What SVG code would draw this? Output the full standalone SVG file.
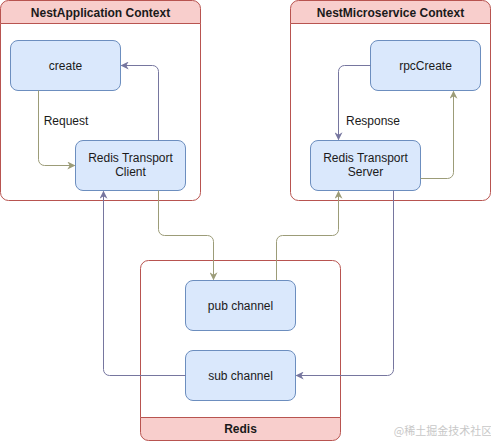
<svg xmlns="http://www.w3.org/2000/svg" width="491" height="441" viewBox="0 0 491 441">
<style>
text{font-family:"Liberation Sans",Arial,sans-serif;font-size:12px;fill:#1a1a1a;text-anchor:middle}
.hd{font-weight:bold}
.cont{fill:#ffffff;stroke:#b85450;stroke-width:1}
.hdr{fill:#f8cecc;stroke:#b85450;stroke-width:1}
.box{fill:#dae8fc;stroke:#6c8ebf;stroke-width:1}
.g{fill:none;stroke:#9c9c78;stroke-width:1}
.p{fill:none;stroke:#76769f;stroke-width:1}
</style>
<defs>
<marker id="ag" viewBox="0 0 10 10" refX="9" refY="5" markerWidth="8" markerHeight="8" markerUnits="userSpaceOnUse" orient="auto"><path d="M0,0 L10,5 L0,10 L3,5 Z" fill="#9c9c78"/></marker>
<marker id="ap" viewBox="0 0 10 10" refX="9" refY="5" markerWidth="8" markerHeight="8" markerUnits="userSpaceOnUse" orient="auto"><path d="M0,0 L10,5 L0,10 L3,5 Z" fill="#76769f"/></marker>
</defs>
<rect width="491" height="441" fill="#ffffff"/>

<g id="nestapp">
<path class="hdr" d="M0.5,23.5 V8.5 A8,8 0 0 1 8.5,0.5 H192.5 A8,8 0 0 1 200.5,8.5 V23.5 Z"/>
<path class="cont" d="M0.5,23.5 H200.5 V192.5 A8,8 0 0 1 192.5,200.5 H8.5 A8,8 0 0 1 0.5,192.5 Z"/>
<text class="hd" x="100.5" y="16.5">NestApplication Context</text>
</g>
<g id="nestms">
<path class="hdr" d="M290.5,23.5 V8.5 A8,8 0 0 1 298.5,0.5 H482.5 A8,8 0 0 1 490.5,8.5 V23.5 Z"/>
<path class="cont" d="M290.5,23.5 H490.5 V192.5 A8,8 0 0 1 482.5,200.5 H298.5 A8,8 0 0 1 290.5,192.5 Z"/>
<text class="hd" x="390.5" y="16.5">NestMicroservice Context</text>
</g>
<g id="redis">
<path class="cont" d="M140.5,417.5 V268.5 A8,8 0 0 1 148.5,260.5 H332.5 A8,8 0 0 1 340.5,268.5 V417.5 Z"/>
<path class="hdr" d="M140.5,417.5 H340.5 V432.5 A8,8 0 0 1 332.5,440.5 H148.5 A8,8 0 0 1 140.5,432.5 Z"/>
<text class="hd" x="240.5" y="433">Redis</text>
</g>

<g id="create"><rect class="box" x="10.5" y="40.5" width="110" height="50" rx="7.5"/><text x="65.5" y="70">create</text></g>
<g id="client"><rect class="box" x="75.5" y="140.5" width="110" height="50" rx="7.5"/><text x="130.5" y="162">Redis Transport</text><text x="130.5" y="176">Client</text></g>
<g id="rpcCreate"><rect class="box" x="370.5" y="40.5" width="110" height="50" rx="7.5"/><text x="425.5" y="70">rpcCreate</text></g>
<g id="server"><rect class="box" x="310.5" y="140.5" width="110" height="50" rx="7.5"/><text x="365.5" y="162">Redis Transport</text><text x="365.5" y="176">Server</text></g>
<g id="pub"><rect class="box" x="185.5" y="280.5" width="110" height="50" rx="7.5"/><text x="240.5" y="310">pub channel</text></g>
<g id="sub"><rect class="box" x="185.5" y="350.5" width="110" height="50" rx="7.5"/><text x="240.5" y="380">sub channel</text></g>

<g id="connectors">
<path class="g" d="M38.5,90.5 V159.5 A6,6 0 0 0 44.5,165.5 H74.5" marker-end="url(#ag)"/>
<text x="66" y="124.5">Request</text>
<path class="p" d="M158.5,140.5 V71.5 A6,6 0 0 0 152.5,65.5 H121.5" marker-end="url(#ap)"/>
<path class="p" d="M370.5,65.5 H344.5 A6,6 0 0 0 338.5,71.5 V139.5" marker-end="url(#ap)"/>
<text x="373" y="124.5">Response</text>
<path class="g" d="M420.5,178.5 H447.5 A6,6 0 0 0 453.5,172.5 V91.5" marker-end="url(#ag)"/>
<path class="g" d="M158.5,190.5 V229.5 A6,6 0 0 0 164.5,235.5 H207.5 A6,6 0 0 1 213.5,241.5 V279.5" marker-end="url(#ag)"/>
<path class="g" d="M276.5,280.5 V241.5 A6,6 0 0 1 282.5,235.5 H332.5 A6,6 0 0 0 338.5,229.5 V191.5" marker-end="url(#ag)"/>
<path class="p" d="M185.5,375.5 H109.5 A6,6 0 0 1 103.5,369.5 V191.5" marker-end="url(#ap)"/>
<path class="p" d="M393.5,190.5 V369.5 A6,6 0 0 1 387.5,375.5 H296.5" marker-end="url(#ap)"/>
</g>
<text x="443" y="435" style="font-family:'Noto Sans CJK SC','Liberation Sans',sans-serif;font-size:11px;fill:#c8c8c8">@稀土掘金技术社区</text>
</svg>
